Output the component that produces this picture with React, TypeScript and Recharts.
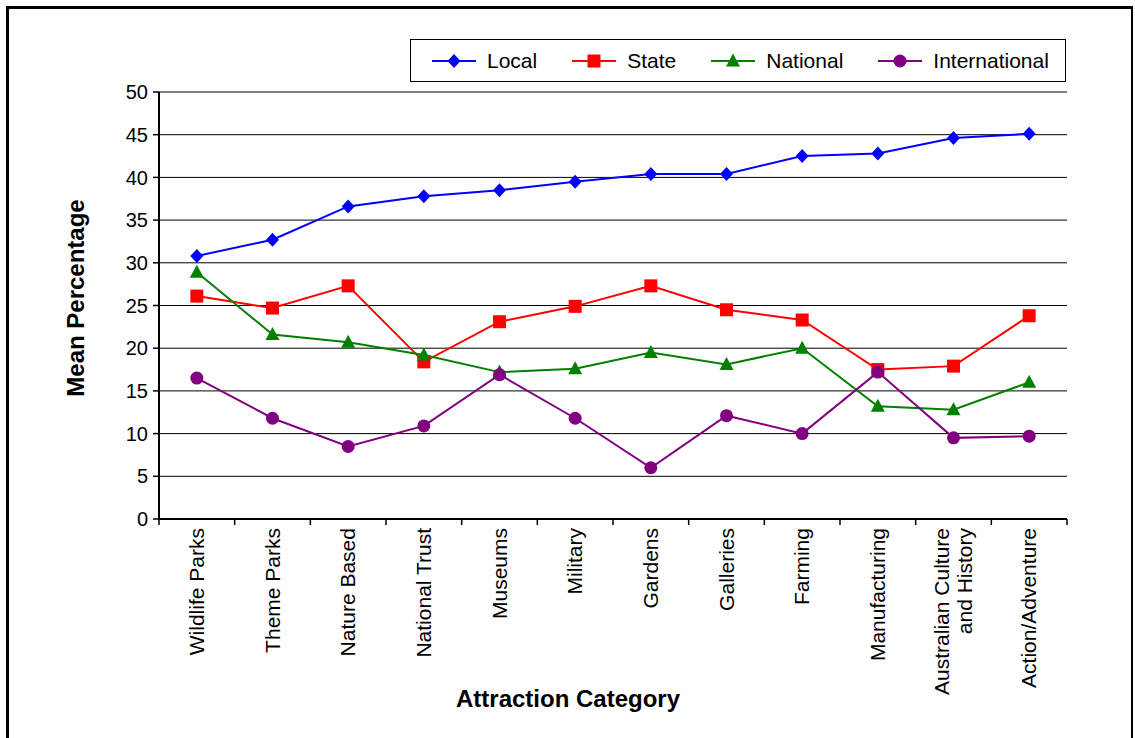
import { LineChart, Line, XAxis, YAxis, CartesianGrid, Legend, Label } from "recharts";

const categories = [
  "Wildlife Parks",
  "Theme Parks",
  "Nature Based",
  "National Trust",
  "Museums",
  "Military",
  "Gardens",
  "Galleries",
  "Farming",
  "Manufacturing",
  "Australian Culture\nand History",
  "Action/Adventure",
];

const local = [30.8, 32.7, 36.6, 37.8, 38.5, 39.5, 40.4, 40.4, 42.5, 42.8, 44.6, 45.1];
const state = [26.1, 24.7, 27.3, 18.4, 23.1, 24.9, 27.3, 24.5, 23.3, 17.5, 17.9, 23.8];
const national = [28.9, 21.6, 20.7, 19.2, 17.2, 17.6, 19.5, 18.1, 20.0, 13.2, 12.8, 16.0];
const international = [16.5, 11.8, 8.5, 10.9, 16.9, 11.8, 6.0, 12.1, 10.0, 17.2, 9.5, 9.7];

const yTicks = [0, 5, 10, 15, 20, 25, 30, 35, 40, 45, 50];

type Shape = "diamond" | "square" | "triangle" | "circle";

const series: { key: string; name: string; color: string; shape: Shape }[] = [
  { key: "local", name: "Local", color: "#0000FF", shape: "diamond" },
  { key: "state", name: "State", color: "#FF0000", shape: "square" },
  { key: "national", name: "National", color: "#008000", shape: "triangle" },
  { key: "international", name: "International", color: "#800080", shape: "circle" },
];

const data = categories.map((name, i) => ({
  name,
  local: local[i],
  state: state[i],
  national: national[i],
  international: international[i],
}));

const FONT = "'Liberation Sans', Arial, Helvetica, sans-serif";

function Marker({ cx, cy, shape, color }: { cx: number; cy: number; shape: Shape; color: string }) {
  if (cx == null || cy == null) return null;
  switch (shape) {
    case "diamond":
      return <polygon points={`${cx},${cy - 7} ${cx + 6.5},${cy} ${cx},${cy + 7} ${cx - 6.5},${cy}`} fill={color} />;
    case "square":
      return <rect x={cx - 6.5} y={cy - 6.5} width={13} height={13} fill={color} />;
    case "triangle":
      return <polygon points={`${cx},${cy - 7.5} ${cx + 7},${cy + 5.5} ${cx - 7},${cy + 5.5}`} fill={color} />;
    default:
      return <circle cx={cx} cy={cy} r={6.5} fill={color} />;
  }
}

// category labels sit rotated under each band; tick marks go on the band edges
function CategoryTick(props: any) {
  const { x, y, payload, index, width, visibleTicksCount } = props;
  const band = width / visibleTicksCount;
  const lines = String(payload.value).split("\n");
  const top = y + 1;
  const lh = 23;
  const first = -((lines.length - 1) * lh) / 2;
  return (
    <g>
      <line x1={x - band / 2} x2={x - band / 2} y1={y - 8} y2={y - 2} stroke="#000" strokeWidth={1.5} />
      {index === visibleTicksCount - 1 && (
        <line x1={x + band / 2} x2={x + band / 2} y1={y - 8} y2={y - 2} stroke="#000" strokeWidth={1.5} />
      )}
      <text
        transform={`rotate(-90, ${x}, ${top})`}
        x={x}
        y={top}
        textAnchor="end"
        fontSize={21}
        fontFamily={FONT}
        fill="#000"
      >
        {lines.map((l, i) => (
          <tspan key={i} x={x} y={top} dy={first + i * lh + 7}>
            {l}
          </tspan>
        ))}
      </text>
    </g>
  );
}

function LegendBox() {
  return (
    <div
      style={{
        boxSizing: "border-box",
        width: 656,
        height: 43,
        border: "1px solid #000",
        background: "#fff",
        display: "flex",
        alignItems: "center",
        paddingLeft: 21,
        fontFamily: FONT,
        fontSize: 21,
        color: "#000",
      }}
    >
      {series.map((s) => (
        <div key={s.key} style={{ display: "flex", alignItems: "center", marginRight: 35 }}>
          <svg width={44} height={16} style={{ marginRight: 11 }}>
            <line x1={0} x2={44} y1={8} y2={8} stroke={s.color} strokeWidth={2} />
            <Marker cx={22} cy={8} shape={s.shape} color={s.color} />
          </svg>
          <span>{s.name}</span>
        </div>
      ))}
    </div>
  );
}

export default function App() {
  return (
    <div style={{ position: "fixed", left: 0, top: 0, width: 1135, height: 738, overflow: "hidden", background: "#fff" }}>
      <div
        style={{
          position: "absolute",
          left: 6,
          top: 6,
          width: 1122,
          height: 760,
          borderLeft: "3px solid #000",
          borderTop: "3px solid #000",
          borderRight: "2px solid #000",
        }}
      />
      <div style={{ position: "absolute", left: 0, top: 0 }}>
        <LineChart width={1135} height={738} data={data} margin={{ top: 92, right: 68, bottom: 0, left: 0 }}>
          <CartesianGrid vertical={false} stroke="#000" strokeWidth={1} />
          <XAxis
            dataKey="name"
            scale="band"
            height={219}
            interval={0}
            tickLine={false}
            tickSize={6}
            tickMargin={2}
            axisLine={{ stroke: "#000", strokeWidth: 2 }}
            tick={<CategoryTick />}
          >
            <Label
              content={({ viewBox }: any) => (
                <text
                  x={viewBox.x + 409}
                  y={viewBox.y + 188}
                  textAnchor="middle"
                  fontSize={24}
                  fontWeight="bold"
                  fontFamily={FONT}
                  fill="#000"
                >
                  Attraction Category
                </text>
              )}
            />
          </XAxis>
          <YAxis
            width={159}
            domain={[0, 50]}
            ticks={yTicks}
            interval={0}
            tickSize={6}
            tickMargin={5}
            axisLine={{ stroke: "#000", strokeWidth: 2 }}
            tickLine={{ stroke: "#000", strokeWidth: 1.5 }}
            tick={{ fill: "#000", fontSize: 20, fontFamily: FONT }}
          >
            <Label
              content={({ viewBox }: any) => (
                <text
                  transform={`rotate(-90, ${viewBox.x + 76}, ${viewBox.y + 206})`}
                  x={viewBox.x + 76}
                  y={viewBox.y + 206}
                  dy={8}
                  textAnchor="middle"
                  fontSize={24}
                  fontWeight="bold"
                  fontFamily={FONT}
                  fill="#000"
                >
                  Mean Percentage
                </text>
              )}
            />
          </YAxis>
          <YAxis
            yAxisId="edge"
            orientation="right"
            width={0}
            domain={[0, 50]}
            tick={false}
            tickLine={false}
            axisLine={{ stroke: "#000", strokeWidth: 1.5 }}
          />
          <Legend
            layout="horizontal"
            verticalAlign="middle"
            align="center"
            wrapperStyle={{ left: 410, top: 39, width: 656, height: 43 }}
            content={() => <LegendBox />}
          />
          {series.map((s) => (
            <Line
              key={s.key}
              type="linear"
              dataKey={s.key}
              name={s.name}
              stroke={s.color}
              strokeWidth={2}
              isAnimationActive={false}
              dot={(p: any) => (
                <Marker key={`${s.key}-${p.index}`} cx={p.cx} cy={p.cy} shape={s.shape} color={s.color} />
              )}
              activeDot={false}
            />
          ))}
        </LineChart>
      </div>
    </div>
  );
}
